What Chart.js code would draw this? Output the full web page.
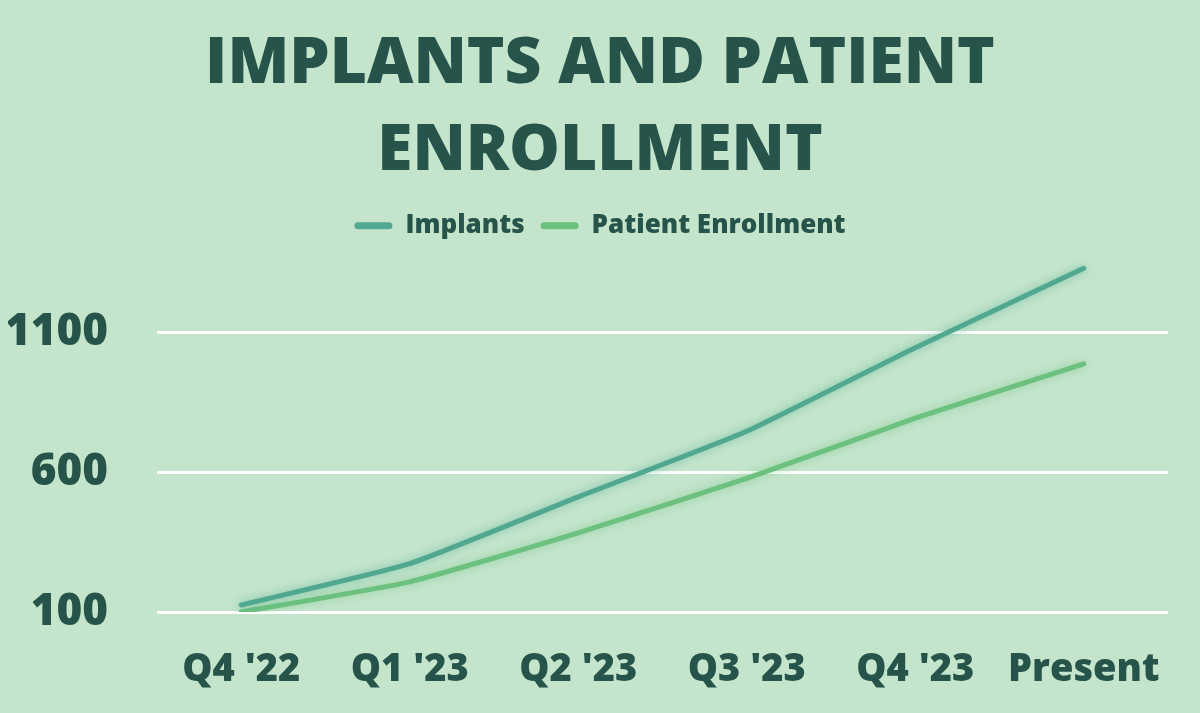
<!DOCTYPE html>
<html lang="en">
<head>
    <meta charset="UTF-8">
    <title>Implants and Patient Enrollment</title>
    <script src="https://cdn.jsdelivr.net/npm/chart.js"></script>
    <style>
        html, body {
            margin: 0;
            padding: 0;
            background: #c4e5cc;
        }
        #wrap {
            width: 1200px;
            height: 713px;
        }
    </style>
</head>
<body>
    <div id="wrap"><canvas id="chart"></canvas></div>

    <script>
        const quarters = ["Q4 '22", "Q1 '23", "Q2 '23", "Q3 '23", "Q4 '23", "Present"];
        const implants = [125, 273, 512, 747, 1046, 1330];
        const enrollment = [100, 208, 383, 578, 794, 988];
        const yTicks = [100, 600, 1100];

        const darkText = '#27544a';
        const implantsColor = '#4fa88f';
        const enrollColor = '#6cc17e';

        // soft glow under the lines
        const glow = {
            id: 'glow',
            beforeDatasetDraw(chart, args) {
                const ctx = chart.ctx;
                ctx.save();
                ctx.shadowColor = args.meta.dataset.options.borderColor + '99';
                ctx.shadowBlur = 10;
            },
            afterDatasetDraw(chart) {
                chart.ctx.restore();
            }
        };

        // title and legend sit centred on the whole canvas, not on the padded box
        const centreHeader = {
            id: 'centreHeader',
            afterLayout(chart) {
                const shift = (chart.width - chart.options.layout.padding.right - chart.options.layout.padding.left) / 2
                    + chart.options.layout.padding.left - chart.width / 2;
                [chart.titleBlock, chart.legend].forEach(b => {
                    if (!b) return;
                    b.left -= shift;
                    b.right -= shift;
                });
            }
        };

        new Chart(document.getElementById('chart'), {
            type: 'line',
            data: {
                labels: quarters,
                datasets: [
                    {
                        label: 'Implants',
                        data: implants,
                        borderColor: implantsColor,
                        backgroundColor: implantsColor,
                        borderWidth: 5,
                        borderCapStyle: 'round',
                        pointRadius: 0,
                        tension: 0.15
                    },
                    {
                        label: 'Patient Enrollment',
                        data: enrollment,
                        borderColor: enrollColor,
                        backgroundColor: enrollColor,
                        borderWidth: 5,
                        borderCapStyle: 'round',
                        pointRadius: 0,
                        tension: 0.15
                    }
                ]
            },
            options: {
                responsive: true,
                maintainAspectRatio: false,
                animation: false,
                layout: { padding: { left: 8, right: 32, top: 22, bottom: 0 } },
                plugins: {
                    title: {
                        display: true,
                        text: ['IMPLANTS AND PATIENT', 'ENROLLMENT'],
                        color: darkText,
                        font: { family: 'Open Sans', size: 64, weight: '800', lineHeight: 1.35 },
                        padding: { top: 0, bottom: 2 }
                    },
                    legend: {
                        position: 'top',
                        labels: {
                            color: darkText,
                            font: { family: 'Open Sans', size: 26, weight: '800' },
                            boxWidth: 38,
                            boxHeight: 7,
                            useBorderRadius: true,
                            borderRadius: 3.5,
                            padding: 16,
                            generateLabels(chart) {
                                const items = Chart.defaults.plugins.legend.labels.generateLabels(chart);
                                items.forEach(it => { it.lineWidth = 0; });
                                return items;
                            }
                        }
                    },
                    tooltip: { enabled: false }
                },
                scales: {
                    x: {
                        offset: true,
                        grid: { display: false, drawTicks: false },
                        border: { display: false },
                        ticks: {
                            color: darkText,
                            font: { family: 'Open Sans', size: 38, weight: '800' },
                            padding: 35,
                            maxRotation: 0
                        },
                        afterFit(scale) {
                            scale.height = 101;
                        }
                    },
                    y: {
                        min: 100,
                        max: 1400,
                        afterBuildTicks(scale) {
                            scale.ticks = yTicks.map(v => ({ value: v }));
                        },
                        afterFit(scale) {
                            scale.width = 149;
                        },
                        grid: {
                            color: '#ffffff',
                            lineWidth: 3,
                            drawTicks: false
                        },
                        border: { display: false },
                        ticks: {
                            color: darkText,
                            font: { family: 'Open Sans', size: 44, weight: '800' },
                            padding: 49,
                            callback: v => String(v)
                        }
                    }
                }
            },
            plugins: [glow, centreHeader]
        });
    </script>
</body>
</html>
